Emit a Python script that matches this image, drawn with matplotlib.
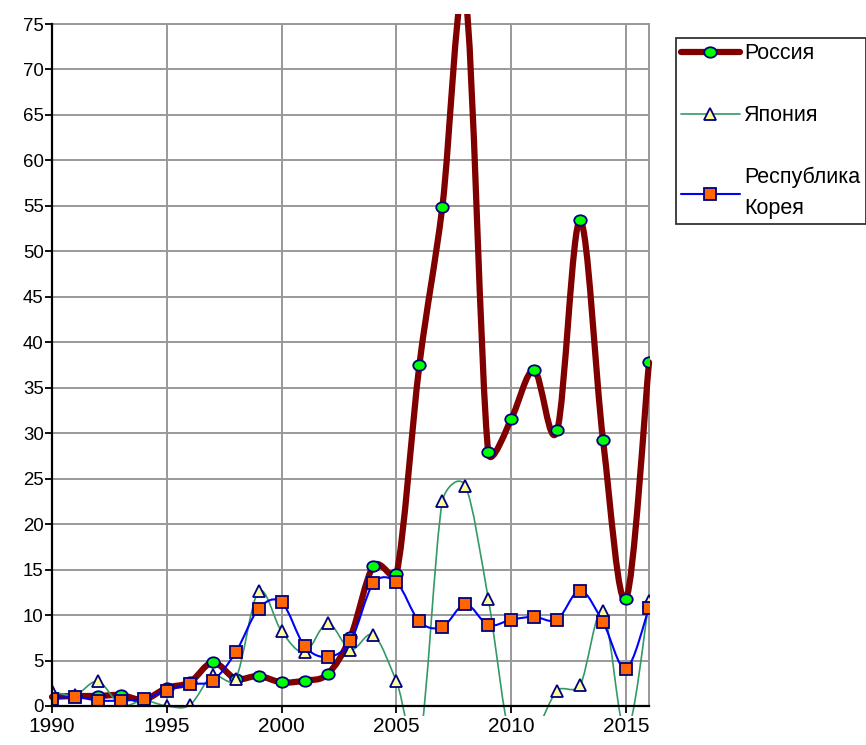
import numpy as np
import matplotlib as mpl
mpl.use('Agg')
import matplotlib.pyplot as plt
from matplotlib.path import Path
from matplotlib.patches import PathPatch, Rectangle
from matplotlib.lines import Line2D
from matplotlib.transforms import Affine2D

plt.rcParams['font.family'] = ['Liberation Sans', 'DejaVu Sans']

years = list(range(1990, 2017))
russia = [1.0, 1.1, 1.1, 1.2, 0.7, 2.0, 2.6, 4.8, 3.0, 3.3, 2.6, 2.8, 3.5, 7.6,
          15.4, 14.5, 37.5, 54.9, 78.0, 27.9, 31.6, 36.9, 30.3, 53.4, 29.2, 11.8, 37.8]
japan = [1.6, 1.2, 2.7, 0.1, 0.6, 0.0, 0.1, 3.4, 3.0, 12.6, 8.2, 5.9, 9.1, 6.2,
         7.8, 2.7, -4.0, 22.5, 24.2, 11.8, -4.0, -3.0, 1.7, 2.3, 10.4, -3.0, 11.5]
korea = [0.8, 1.0, 0.6, 0.6, 0.8, 1.7, 2.4, 2.8, 5.9, 10.7, 11.4, 6.6, 5.4, 7.1,
         13.5, 13.6, 9.3, 8.7, 11.2, 8.9, 9.5, 9.8, 9.5, 12.7, 9.2, 4.1, 10.8]
labels = ['Россия', 'Япония', 'Республика\nКорея']

fig = plt.figure(figsize=(8.66, 7.45), dpi=100)
ax = fig.add_axes([52 / 866, 1 - 706 / 745, (649 - 52) / 866, (706 - 24) / 745])
ax.set_xlim(1990, 2016)
ax.set_ylim(0, 75)


def smooth_path(x, y):
    # excel-style smoothed line: bezier control points worked out in pixel space
    P = ax.transData.transform(np.column_stack([x, y]))
    n = len(P)
    verts = [P[0]]
    codes = [Path.MOVETO]
    for i in range(n - 1):
        p0 = P[i - 1] if i > 0 else P[i]
        p1, p2 = P[i], P[i + 1]
        p3 = P[i + 2] if i + 2 < n else P[i + 1]
        d02 = np.hypot(*(p2 - p0))
        d12 = np.hypot(*(p2 - p1))
        d13 = np.hypot(*(p3 - p1))
        a = d02 / 6 < d12 / 2
        b = d13 / 6 < d12 / 2
        if a and b:
            f1 = f2 = 1 / 6
        elif not a and not b:
            f1, f2 = d12 / 2 / d02, d12 / 2 / d13
        elif not a:
            f1 = f2 = d12 / 2 / d02
        else:
            f1 = f2 = d12 / 2 / d13
        verts += [p1 + (p2 - p0) * f1, p2 - (p3 - p1) * f2, p2]
        codes += [Path.CURVE4] * 3
    verts = ax.transData.inverted().transform(np.array(verts))
    return Path(verts, codes)


oval = Path.unit_circle().transformed(Affine2D().scale(1.2, 1.0))

series = [
    (russia, '#800000', 4.5, oval, '#00FF00', 9.0),
    (japan, '#339966', 1.2, '^', '#FFFF99', 8.5),
    (korea, '#0000FF', 1.5, 's', '#FF6600', 8.0),
]

handles = []
for k, (vals, col, lw, mk, fc, ms) in enumerate(series):
    clip = Rectangle((-0.01, -0.014), 1.02, 1.028, transform=ax.transAxes)
    patch = PathPatch(smooth_path(years, vals), fill=False, edgecolor=col, lw=lw,
                      capstyle='round', joinstyle='round', zorder=3 + 2 * k)
    ax.add_patch(patch)
    patch.set_clip_path(clip)
    ax.plot(years, vals, linestyle='none', marker=mk, markerfacecolor=fc,
            markeredgecolor='#000080', markersize=ms, markeredgewidth=1.3,
            zorder=4 + 2 * k)
    handles.append(Line2D([], [], color=col, lw=lw, marker=mk, markerfacecolor=fc,
                          markeredgecolor='#000080', markersize=ms,
                          markeredgewidth=1.3, solid_capstyle='round'))

ax.set_xticks(range(1990, 2016, 5))
ax.set_yticks(range(0, 76, 5))
ax.tick_params(axis='both', direction='out', length=5, width=1.3, color='black')
ax.tick_params(axis='y', pad=1, labelsize=13.4)
ax.tick_params(axis='x', pad=3, labelsize=15)
ax.grid(color='#999999', lw=1.4)
ax.set_axisbelow(True)
for s in ['left', 'bottom']:
    ax.spines[s].set_color('black')
    ax.spines[s].set_linewidth(1.6)
    ax.spines[s].set_zorder(10)
for s in ['top', 'right']:
    ax.spines[s].set_color('#999999')
    ax.spines[s].set_linewidth(1.4)

leg = ax.legend(handles, labels, loc='upper left',
                bbox_to_anchor=(676 / 866, 1 - 38 / 745), bbox_transform=fig.transFigure,
                fontsize=15.5, frameon=True, fancybox=False, edgecolor='black',
                borderaxespad=0, borderpad=0.25, handlelength=2.7, handletextpad=0.23,
                labelspacing=1.9)
leg.get_frame().set_linewidth(1.3)
for t in leg.get_texts():
    t.set_linespacing(1.6)

fig.savefig('out.png', dpi=100)
